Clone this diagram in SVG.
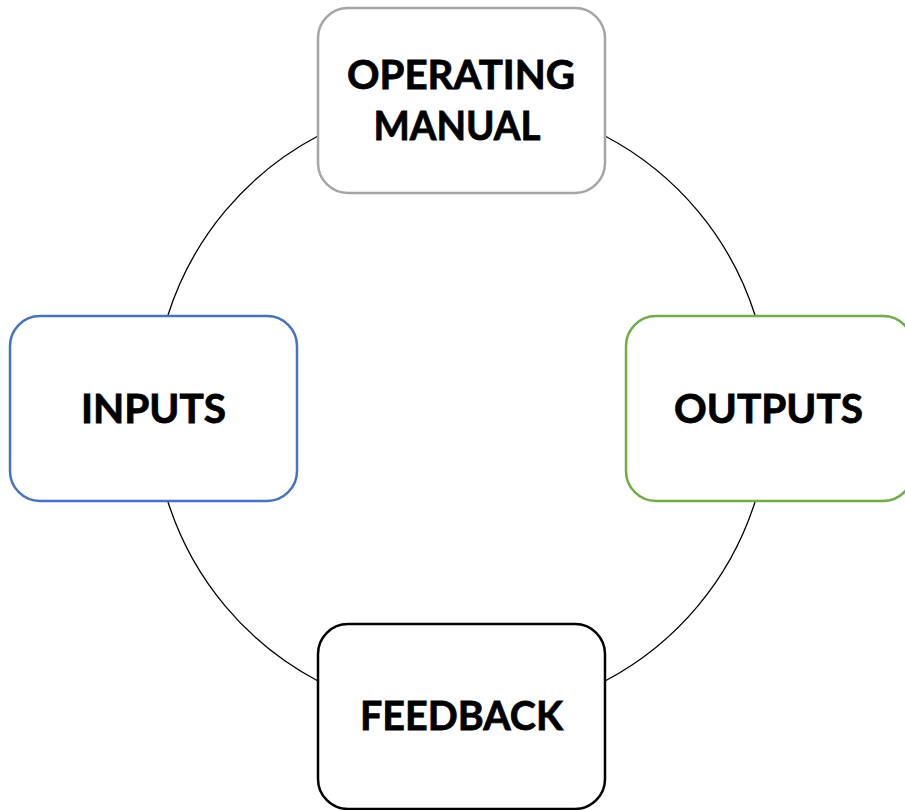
<svg xmlns="http://www.w3.org/2000/svg" width="905" height="810" viewBox="0 0 905 810">
  <style>
    .box { fill: #FFFFFF; stroke-width: 2.5; }
    .lbl { font-family: Lato, "Open Sans", "Liberation Sans", sans-serif; font-weight: bold; font-size: 40px; fill: #000000; stroke: #000000; stroke-width: 0.8; text-anchor: middle; }
    .conn { fill: none; stroke: #000000; stroke-width: 1.3; }
  </style>
  <rect width="905" height="810" fill="#FFFFFF"/>
  <g id="connectors">
    <path class="conn" d="M 318 136 A 308 308 0 0 0 167.7 316"/>
    <path class="conn" d="M 605 136 A 308 308 0 0 1 755.3 316"/>
    <path class="conn" d="M 755.3 501 A 308 308 0 0 1 605 681"/>
    <path class="conn" d="M 318 681 A 308 308 0 0 1 167.7 501"/>
  </g>
  <g id="operating-manual">
    <rect class="box" x="318" y="8" width="287" height="185" rx="30" ry="30" stroke="#A5A5A5"/>
    <text class="lbl" x="461" y="88.5" textLength="228" lengthAdjust="spacingAndGlyphs">OPERATING</text>
    <text class="lbl" x="457" y="140" textLength="167" lengthAdjust="spacingAndGlyphs">MANUAL</text>
  </g>
  <g id="inputs">
    <rect class="box" x="10" y="316" width="287" height="185" rx="30" ry="30" stroke="#4472C4"/>
    <text class="lbl" x="153.5" y="423" textLength="145" lengthAdjust="spacingAndGlyphs">INPUTS</text>
  </g>
  <g id="outputs">
    <rect class="box" x="626" y="316" width="287" height="185" rx="30" ry="30" stroke="#70AD47"/>
    <text class="lbl" x="768.5" y="423" textLength="189" lengthAdjust="spacingAndGlyphs">OUTPUTS</text>
  </g>
  <g id="feedback">
    <rect class="box" x="318" y="624" width="287" height="185" rx="30" ry="30" stroke="#000000"/>
    <text class="lbl" x="461.5" y="730" textLength="203" lengthAdjust="spacingAndGlyphs">FEEDBACK</text>
  </g>
</svg>
